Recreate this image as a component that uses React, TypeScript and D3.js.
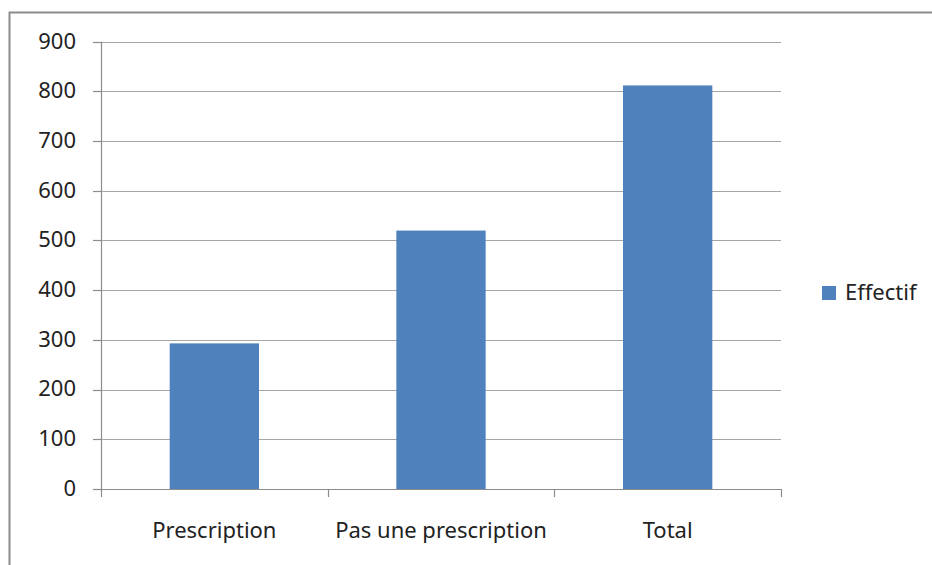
import { useEffect, useRef } from 'react';
import * as d3 from 'd3';

// Data
const categories = ['Prescription', 'Pas une prescription', 'Total'];
const effectif = [293, 520, 812];
const yTicks = [0, 100, 200, 300, 400, 500, 600, 700, 800, 900];
const seriesName = 'Effectif';

const W = 932;
const H = 565;
const FONT = '"Noto Sans", sans-serif';
const FS = 22;

export default function App() {
    let ref = useRef<SVGSVGElement>(null);

    useEffect(() => {
        const svg = d3.select(ref.current);
        svg.selectAll('*').remove();

        const plot = { left: 101, right: 781, top: 41.7, bottom: 489 };

        const x = d3.scaleBand().domain(categories).range([plot.left, plot.right]).padding(0);
        const y = d3.scaleLinear().domain([0, 900]).range([plot.bottom, plot.top]);
        const barW = x.bandwidth() * 0.394;

        // Outer frame
        svg.append('rect')
            .attr('x', 9.5).attr('y', 12.5)
            .attr('width', W + 20).attr('height', H + 20)
            .attr('fill', 'white')
            .attr('stroke', '#8c8c8c')
            .attr('stroke-width', 2);

        // Gridlines
        svg.append('g')
            .selectAll('line')
            .data(yTicks.filter(t => t > 0))
            .join('line')
            .attr('x1', plot.left).attr('x2', plot.right)
            .attr('y1', d => Math.round(y(d)) + 0.5).attr('y2', d => Math.round(y(d)) + 0.5)
            .attr('stroke', '#a6a6a6')
            .attr('stroke-width', 1.2);

        // Bars
        svg.append('g')
            .selectAll('rect')
            .data(categories)
            .join('rect')
            .attr('x', d => x(d)! + (x.bandwidth() - barW) / 2)
            .attr('y', (d, i) => y(effectif[i]))
            .attr('width', barW)
            .attr('height', (d, i) => y(0) - y(effectif[i]))
            .attr('fill', '#4f81bd');

        // Left axis
        const left = svg.append('g');
        left.append('line')
            .attr('x1', plot.left + 0.5).attr('x2', plot.left + 0.5)
            .attr('y1', plot.top).attr('y2', plot.bottom)
            .attr('stroke', '#8c8c8c').attr('stroke-width', 1.2);
        left.selectAll('line.tick')
            .data(yTicks)
            .join('line')
            .attr('class', 'tick')
            .attr('x1', 93).attr('x2', plot.left)
            .attr('y1', d => Math.round(y(d)) + 0.5).attr('y2', d => Math.round(y(d)) + 0.5)
            .attr('stroke', '#8c8c8c').attr('stroke-width', 1.2);
        left.selectAll('text')
            .data(yTicks)
            .join('text')
            .attr('x', 76)
            .attr('y', d => y(d) + 1)
            .attr('text-anchor', 'end')
            .attr('dominant-baseline', 'middle')
            .attr('font-family', FONT)
            .attr('font-size', FS)
            .attr('fill', '#222')
            .text(d => d);

        // Bottom axis
        const bottom = svg.append('g');
        bottom.append('line')
            .attr('x1', plot.left).attr('x2', plot.right)
            .attr('y1', plot.bottom + 0.5).attr('y2', plot.bottom + 0.5)
            .attr('stroke', '#8c8c8c').attr('stroke-width', 1.2);
        const edges = [...categories.map(c => x(c)!), plot.right];
        bottom.selectAll('line.tick')
            .data(edges)
            .join('line')
            .attr('class', 'tick')
            .attr('x1', d => Math.round(d) + 0.5).attr('x2', d => Math.round(d) + 0.5)
            .attr('y1', plot.bottom).attr('y2', plot.bottom + 8)
            .attr('stroke', '#8c8c8c').attr('stroke-width', 1.2);
        bottom.selectAll('text')
            .data(categories)
            .join('text')
            .attr('x', d => x(d)! + x.bandwidth() / 2)
            .attr('y', 538)
            .attr('text-anchor', 'middle')
            .attr('font-family', FONT)
            .attr('font-size', FS)
            .attr('fill', '#222')
            .text(d => d);

        // Legend
        svg.append('rect')
            .attr('x', 822).attr('y', 286)
            .attr('width', 14).attr('height', 14)
            .attr('fill', '#4f81bd');
        svg.append('text')
            .attr('x', 845).attr('y', 300)
            .attr('font-family', FONT)
            .attr('font-size', FS)
            .attr('fill', '#222')
            .text(seriesName);
    }, []);

    return <svg ref={ref} width={W} height={H}
        style={{ position: 'absolute', left: 0, top: 0, background: 'white' }} />;
}
